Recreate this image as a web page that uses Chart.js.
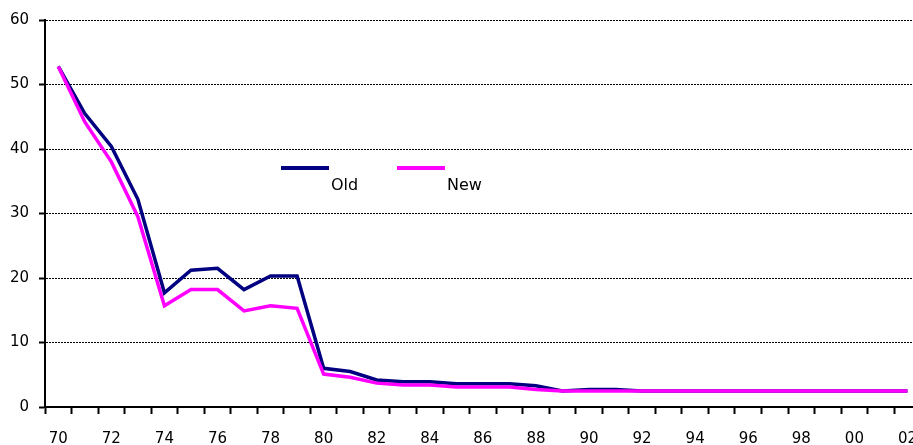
<!DOCTYPE html>
<html>
<head>
<meta charset="utf-8">
<script src="https://cdn.jsdelivr.net/npm/chart.js@4/dist/chart.umd.min.js"></script>
<style>
    html, body { margin: 0; padding: 0; background: #fff; overflow: hidden; }
    #wrap { width: 913px; height: 445px; overflow: hidden; }
</style>
</head>
<body>
<div id="wrap">
    <canvas id="chart" width="933" height="445"></canvas>
</div>
<script>
const years = ['70', '71', '72', '73', '74', '75', '76', '77', '78', '79',
    '80', '81', '82', '83', '84', '85', '86', '87', '88', '89',
    '90', '91', '92', '93', '94', '95', '96', '97', '98', '99',
    '00', '01', '02'];

const oldValues = [52.8, 45.5, 40.4, 32.2, 17.7, 21.2, 21.5, 18.2, 20.3, 20.3,
    6.0, 5.5, 4.2, 3.9, 3.9, 3.6, 3.6, 3.6, 3.3, 2.5,
    2.7, 2.7, 2.5, 2.5, 2.5, 2.5, 2.5, 2.5, 2.5, 2.5,
    2.5, 2.5, 2.5];

const newValues = [52.8, 44.2, 38.0, 29.5, 15.7, 18.2, 18.2, 14.9, 15.7, 15.3,
    5.1, 4.6, 3.7, 3.4, 3.4, 3.1, 3.1, 3.1, 2.7, 2.5,
    2.5, 2.5, 2.5, 2.5, 2.5, 2.5, 2.5, 2.5, 2.5, 2.5,
    2.5, 2.5, 2.5];

const yTicks = [0, 10, 20, 30, 40, 50, 60];

const FONT = "'DejaVu Sans', sans-serif";

// legend is drawn by hand, it sits inside the plot area
const legendPlugin = {
    id: 'handLegend',
    afterDraw(chart) {
        const ctx = chart.ctx;
        const items = [
            { label: 'Old', color: '#000080', x: 281 },
            { label: 'New', color: '#ff00ff', x: 397 }
        ];
        ctx.save();
        items.forEach(item => {
            ctx.strokeStyle = item.color;
            ctx.lineWidth = 4;
            ctx.beginPath();
            ctx.moveTo(item.x, 168);
            ctx.lineTo(item.x + 48, 168);
            ctx.stroke();
            ctx.fillStyle = '#000';
            ctx.font = '16px ' + FONT;
            ctx.textBaseline = 'alphabetic';
            ctx.textAlign = 'left';
            ctx.fillText(item.label, item.x + 50, 190);
        });
        ctx.restore();
    }
};

const ctx = document.getElementById('chart').getContext('2d');
new Chart(ctx, {
    type: 'line',
    data: {
        labels: years,
        datasets: [
            {
                label: 'Old',
                data: oldValues,
                borderColor: '#000080',
                borderWidth: 3.5,
                pointRadius: 0,
                tension: 0,
                fill: false,
                order: 2
            },
            {
                label: 'New',
                data: newValues,
                borderColor: '#ff00ff',
                borderWidth: 3.5,
                pointRadius: 0,
                tension: 0,
                fill: false,
                order: 1
            }
        ]
    },
    options: {
        responsive: false,
        animation: false,
        layout: {
            padding: { top: 20, left: 0, right: 0, bottom: 0 }
        },
        plugins: {
            legend: { display: false },
            tooltip: { enabled: false }
        },
        scales: {
            x: {
                offset: true,
                grid: {
                    offset: true,
                    drawOnChartArea: false,
                    drawTicks: true,
                    tickLength: 7,
                    tickWidth: 2,
                    tickColor: '#000'
                },
                border: { display: true, color: '#000', width: 2 },
                ticks: {
                    autoSkip: false,
                    maxRotation: 0,
                    padding: 16,
                    color: '#000',
                    font: { size: 15, family: FONT },
                    callback: function (value, index) {
                        return index % 2 === 0 ? years[index] : '';
                    }
                },
                afterFit: function (scale) {
                    scale.height = 38;
                }
            },
            y: {
                min: 0,
                max: 60,
                afterBuildTicks: function (scale) {
                    scale.ticks = yTicks.map(v => ({ value: v }));
                },
                grid: {
                    color: '#000',
                    lineWidth: 1,
                    drawTicks: true,
                    tickLength: 6,
                    tickWidth: 2,
                    tickColor: '#000',
                    tickBorderDash: [1, 0]
                },
                border: { display: true, color: '#000', width: 2, dash: [2, 1] },
                ticks: {
                    padding: 10,
                    color: '#000',
                    font: { size: 15, family: FONT }
                },
                afterFit: function (scale) {
                    scale.width = 45;
                }
            }
        }
    },
    plugins: [legendPlugin]
});
</script>
</body>
</html>
